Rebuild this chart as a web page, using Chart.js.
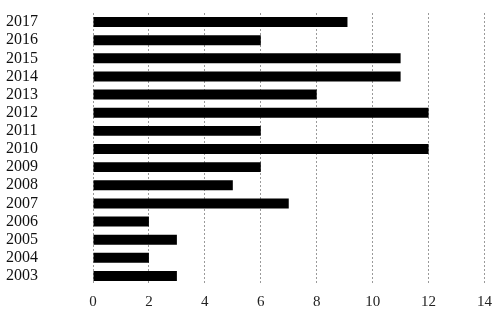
<!DOCTYPE html>
<html>
<head>
<meta charset="utf-8">
<script src="https://cdn.jsdelivr.net/npm/chart.js@4"></script>
<style>
    html, body { margin: 0; padding: 0; background: #ffffff; }
    #wrap { width: 500px; height: 309px; position: relative; }
</style>
</head>
<body>
<div id="wrap"><canvas id="chart"></canvas></div>
<script>
const years = ['2017', '2016', '2015', '2014', '2013', '2012', '2011', '2010',
    '2009', '2008', '2007', '2006', '2005', '2004', '2003'];
const counts = [9.1, 6, 11, 11, 8, 12, 6, 12, 6, 5, 7, 2, 3, 2, 3];
const xTicks = [0, 2, 4, 6, 8, 10, 12, 14];

const serif = "'Liberation Serif', 'DejaVu Serif', serif";

new Chart(document.getElementById('chart'), {
    type: 'bar',
    data: {
        labels: years,
        datasets: [{
            data: counts,
            backgroundColor: '#000000',
            borderWidth: 0,
            barPercentage: 0.55,
            categoryPercentage: 1
        }]
    },
    options: {
        indexAxis: 'y',
        responsive: true,
        maintainAspectRatio: false,
        animation: false,
        layout: { padding: { top: 13, right: 14, bottom: 0, left: 6 } },
        plugins: { legend: { display: false }, tooltip: { enabled: false } },
        scales: {
            x: {
                min: xTicks[0],
                max: xTicks[xTicks.length - 1],
                afterBuildTicks: scale => { scale.ticks = xTicks.map(v => ({ value: v })); },
                afterFit: scale => { scale.height = 24; },
                border: { display: false, dash: [2, 2] },
                grid: { color: '#9a9a9a', drawTicks: false, lineWidth: 1 },
                ticks: { color: '#222', padding: 8, maxRotation: 0, font: { family: serif, size: 15 } }
            },
            y: {
                border: { display: false },
                grid: { display: false, drawTicks: false },
                afterFit: scale => { scale.width = 87; },
                ticks: { color: '#111', crossAlign: 'far', autoSkip: false, padding: 0, font: { family: serif, size: 16 } }
            }
        }
    }
});
</script>
</body>
</html>
